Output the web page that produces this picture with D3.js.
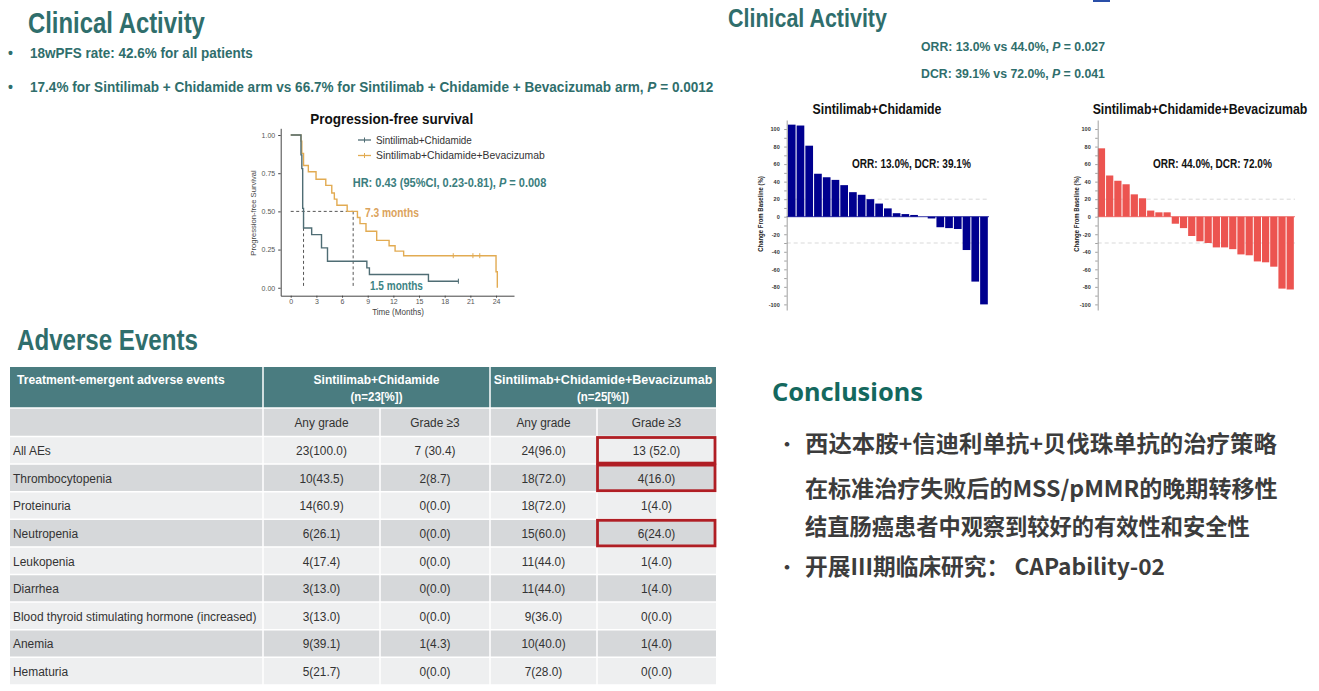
<!DOCTYPE html>
<html><head><meta charset="utf-8">
<script src="https://cdn.jsdelivr.net/npm/d3@7"></script>
<style>
html,body{margin:0;padding:0;background:#fff;}
svg{display:block;}
</style></head>
<body>
<svg id="c" width="1319" height="691"></svg>
<script>
// ---------- DATA ----------
const kmNames = ["Sintilimab+Chidamide", "Sintilimab+Chidamide+Bevacizumab"];
const kmTimesA = [0, 1.2, 1.3, 1.4, 1.5, 2.45, 3.6, 4.3, 8.9, 9.2, 16.1];
const kmSurvA  = [1.0, 0.87, 0.78, 0.52, 0.391, 0.348, 0.261, 0.174, 0.130, 0.087, 0.043];
const kmEndA = 19.6;
const kmCensorA = [[19.6, 0.043]];
const kmTimesB = [0, 1.2, 1.3, 1.5, 2.06, 2.96, 4.1, 4.8, 5.1, 5.4, 6.6, 7.8, 8.1, 8.8, 10.05, 11.5, 12.2, 13.2, 24.0, 24.15];
const kmSurvB  = [1.0, 0.96, 0.88, 0.80, 0.76, 0.71, 0.67, 0.62, 0.58, 0.54, 0.50, 0.46, 0.42, 0.37, 0.31, 0.275, 0.24, 0.21, 0.105, 0.0];
const kmEndB = 24.15;
const kmCensorB = [[19.0, 0.21], [21.3, 0.21], [22.1, 0.21]];
const kmMedians = [1.5, 7.3];
const kmXTicks = [0, 3, 6, 9, 12, 15, 18, 21, 24];
const kmYTicks = [0, 0.25, 0.5, 0.75, 1.0];

const wfValuesA = [105, 104, 81, 49, 45, 42, 36, 28, 25, 20, 15, 9.5, 4, 3, 2, 0, -2, -12, -13, -14, -38, -74, -100];
const wfValuesB = [78, 47, 41, 37, 25.5, 21, 7, 5, 5, -8, -13, -22, -28, -30, -35, -35, -37, -43, -44, -51, -52, -57, -82, -83];
const wfTicks = [-100, -80, -60, -40, -20, 0, 20, 40, 60, 80, 100];
const wfRefLines = [20, -30];

const aeNames = ["All AEs", "Thrombocytopenia", "Proteinuria", "Neutropenia", "Leukopenia", "Diarrhea", "Blood thyroid stimulating hormone (increased)", "Anemia", "Hematuria"];
const aeAnyA = ["23(100.0)", "10(43.5)", "14(60.9)", "6(26.1)", "4(17.4)", "3(13.0)", "3(13.0)", "9(39.1)", "5(21.7)"];
const aeG3A  = ["7 (30.4)", "2(8.7)", "0(0.0)", "0(0.0)", "0(0.0)", "0(0.0)", "0(0.0)", "1(4.3)", "0(0.0)"];
const aeAnyB = ["24(96.0)", "18(72.0)", "18(72.0)", "15(60.0)", "11(44.0)", "11(44.0)", "9(36.0)", "10(40.0)", "7(28.0)"];
const aeG3B  = ["13 (52.0)", "4(16.0)", "1(4.0)", "6(24.0)", "1(4.0)", "1(4.0)", "0(0.0)", "1(4.0)", "0(0.0)"];
const aeHighlight = ["All AEs", "Thrombocytopenia", "Neutropenia"];

// ---------- STYLE ----------
const TEAL = "#2f6e6c";
const SANS = '"Liberation Sans",Arial,sans-serif';
const svg = d3.select("#c");

function txt(x, y, s, o) {
  o = o || {};
  const t = svg.append("text").attr("x", 0).attr("y", 0)
    .attr("font-family", o.family || SANS)
    .attr("font-size", o.size || 14)
    .attr("font-weight", o.weight || "normal")
    .attr("fill", o.fill || "#333")
    .attr("text-anchor", o.anchor || "start");
  if (o.html) t.html(s); else t.text(s);
  let sx = o.sx !== undefined ? o.sx : (o.family ? 1 : 0.9);
  if (o.w) { const len = t.node().getComputedTextLength(); if (len > 0) sx = o.w / len; }
  t.attr("transform", `translate(${x},${y}) scale(${sx},1)`);
  return t;
}

// ---------- LEFT TOP ----------
txt(28, 33, "Clinical Activity", {size: 29, weight: "bold", fill: TEAL, w: 177});
txt(8, 58, "•", {size: 14, weight: "bold", fill: TEAL, sx: 1});
txt(30, 58, "18wPFS rate: 42.6% for all patients", {size: 15, weight: "bold", fill: TEAL, w: 223});
txt(8, 92, "•", {size: 14, weight: "bold", fill: TEAL, sx: 1});
txt(30, 92, "17.4% for Sintilimab + Chidamide arm vs 66.7% for Sintilimab + Chidamide + Bevacizumab arm, <tspan font-style='italic'>P</tspan> = 0.0012",
    {size: 15, weight: "bold", fill: TEAL, html: true, w: 684});

// ---------- KM PLOT ----------
{
  const x = d3.scaleLinear().domain([-1.17, 26.1]).range([280.7, 514]);
  const y = d3.scaleLinear().domain([-0.052, 1.044]).range([295.7, 128.3]);
  const g = svg.append("g");
  const xa = g.append("g").attr("transform", "translate(0,295.7)")
    .call(d3.axisBottom(x).tickValues(kmXTicks).tickSize(2).tickPadding(1.5).tickSizeOuter(0));
  const ya = g.append("g").attr("transform", "translate(280.7,0)")
    .call(d3.axisLeft(y).tickValues(kmYTicks).tickFormat(d3.format(".2f")).tickSize(2.5).tickPadding(3).tickSizeOuter(0));
  [xa, ya].forEach(a => {
    a.selectAll("path,line").attr("stroke", "#444").attr("stroke-width", 1);
    a.selectAll("text").attr("font-family", SANS).attr("font-size", 7).attr("fill", "#555");
  });
  const dash = "3,2.5";
  g.append("line").attr("x1", x(0)).attr("x2", x(kmMedians[1])).attr("y1", y(0.5)).attr("y2", y(0.5))
    .attr("stroke", "#555").attr("stroke-dasharray", dash);
  kmMedians.forEach(m => g.append("line").attr("x1", x(m)).attr("x2", x(m)).attr("y1", y(0.5)).attr("y2", y(0))
    .attr("stroke", "#555").attr("stroke-dasharray", dash));

  function stepPts(times, surv, end) {
    const pts = times.map((t, i) => [t, surv[i]]);
    pts.push([end, surv[surv.length - 1]]);
    return pts;
  }
  const line = d3.line().x(d => x(d[0])).y(d => y(d[1])).curve(d3.curveStepAfter);
  const colA = "#4f6d74", colB = "#e2ab52";
  g.append("path").attr("d", line(stepPts(kmTimesB, kmSurvB, kmEndB))).attr("fill", "none").attr("stroke", colB).attr("stroke-width", 1.4);
  g.append("path").attr("d", line(stepPts(kmTimesA, kmSurvA, kmEndA))).attr("fill", "none").attr("stroke", colA).attr("stroke-width", 1.4);
  function censor(arr, col) {
    arr.forEach(d => {
      g.append("line").attr("x1", x(d[0])).attr("x2", x(d[0])).attr("y1", y(d[1]) - 2.5).attr("y2", y(d[1]) + 2.5).attr("stroke", col).attr("stroke-width", 1);
    });
  }
  censor(kmCensorB, colB); censor(kmCensorA, colA);

  txt(391.7, 124, "Progression-free survival", {size: 15, weight: "bold", fill: "#111", anchor: "middle", w: 163});
  txt(398, 314.5, "Time (Months)", {size: 8.5, fill: "#444", anchor: "middle", sx: 0.95});
  svg.append("text").attr("font-family", SANS).attr("font-size", 8).attr("fill", "#444")
    .attr("text-anchor", "middle").attr("transform", "translate(256,213) rotate(-90) scale(0.95,1)").text("Progression-free Survival");
  [[colA, kmNames[0], 140, 96], [colB, kmNames[1], 155.5, 169]].forEach(([c, n, yy, w]) => {
    g.append("line").attr("x1", 358).attr("x2", 371).attr("y1", yy).attr("y2", yy).attr("stroke", c).attr("stroke-width", 1.3);
    g.append("line").attr("x1", 364.5).attr("x2", 364.5).attr("y1", yy - 2.5).attr("y2", yy + 2.5).attr("stroke", c).attr("stroke-width", 1);
    txt(376, yy + 3.5, n, {size: 10.5, fill: "#333", w: w});
  });
  txt(352.7, 186.5, "HR: 0.43 (95%CI, 0.23-0.81), <tspan font-style='italic'>P</tspan> = 0.008", {size: 12.5, weight: "bold", fill: "#3b7e7e", html: true, w: 194});
  txt(365, 216.5, "7.3 months", {size: 12.5, weight: "bold", fill: "#dba35c", w: 54});
  txt(370, 289.5, "1.5 months", {size: 12.5, weight: "bold", fill: "#3c8484", w: 53});
}

// ---------- RIGHT TOP ----------
txt(728, 27, "Clinical Activity", {size: 26, weight: "bold", fill: TEAL, w: 159});
svg.append("rect").attr("x", 1093).attr("y", 0).attr("width", 17).attr("height", 2).attr("fill", "#2a4fa8");
txt(1013, 51, "ORR: 13.0% vs 44.0%, <tspan font-style='italic'>P</tspan> = 0.027", {size: 13.5, weight: "bold", fill: TEAL, anchor: "middle", html: true, w: 184});
txt(1013, 78, "DCR: 39.1% vs 72.0%, <tspan font-style='italic'>P</tspan> = 0.041", {size: 13.5, weight: "bold", fill: TEAL, anchor: "middle", html: true, w: 184});

function waterfall(vals, axisX, x0, x1, color, title, titleX, titleW, orr, orrX, ylabX) {
  const y = d3.scaleLinear().domain([-106.4, 110.3]).range([310, 120]);
  const xb = d3.scaleBand().domain(d3.range(vals.length)).range([x0, x1]).paddingInner(0.12).paddingOuter(0.02);
  const g = svg.append("g");
  wfRefLines.forEach(v => g.append("line").attr("x1", axisX).attr("x2", x1 + 1).attr("y1", y(v)).attr("y2", y(v))
    .attr("stroke", "#cfcfcf").attr("stroke-width", 0.8).attr("stroke-dasharray", "4,3"));
  g.selectAll("rect.b").data(vals).join("rect")
    .attr("x", (d, i) => xb(i)).attr("width", xb.bandwidth())
    .attr("y", d => y(Math.max(0, d))).attr("height", d => Math.abs(y(d) - y(0)))
    .attr("fill", color);
  g.append("line").attr("x1", axisX).attr("x2", x1 + 1).attr("y1", y(0)).attr("y2", y(0)).attr("stroke", color).attr("stroke-width", 0.8);
  const minor = d3.range(-100, 101, 10);
  const ax = g.append("g").attr("transform", `translate(${axisX},0)`)
    .call(d3.axisLeft(y).tickValues(minor).tickFormat(d => wfTicks.includes(d) ? d : "").tickSize(2.5).tickSizeOuter(0));
  ax.selectAll("path,line").attr("stroke", "#888").attr("stroke-width", 0.8);
  ax.selectAll("text").attr("font-family", SANS).attr("font-size", 5.5).attr("font-weight", "bold").attr("fill", "#333").attr("dx", -1.5);
  svg.append("text").attr("font-family", SANS).attr("font-size", 6.5).attr("font-weight", "bold").attr("fill", "#222")
    .attr("text-anchor", "middle").attr("transform", `translate(${ylabX},214) rotate(-90) scale(0.92,1)`).text("Change From Baseline (%)");
  txt(titleX, 113.5, title, {size: 14, weight: "bold", fill: "#111", anchor: "middle", w: titleW});
  txt(orrX, 168, orr, {size: 12.5, weight: "bold", fill: "#111", w: 119});
}
waterfall(wfValuesA, 786.7, 787.7, 988, "#00008f", kmNames[0], 877, 129, "ORR: 13.0%, DCR: 39.1%", 852, 763);
waterfall(wfValuesB, 1097.7, 1097.7, 1294, "#ec5450", kmNames[1], 1200, 215, "ORR: 44.0%, DCR: 72.0%", 1153, 1079);

// ---------- ADVERSE EVENTS TABLE ----------
txt(17, 350, "Adverse Events", {size: 29.5, weight: "bold", fill: TEAL, w: 181});
{
  const colX = [10, 263, 380, 490, 597, 716];
  const g = svg.append("g");
  const hdrTop = 367, hdrBot = 408, subBot = 436.5, rowH = 27.6;
  g.append("rect").attr("x", colX[0]).attr("y", hdrTop).attr("width", colX[5] - colX[0]).attr("height", hdrBot - hdrTop).attr("fill", "#4a7c80");
  g.append("rect").attr("x", colX[0]).attr("y", hdrBot).attr("width", colX[5] - colX[0]).attr("height", subBot - hdrBot).attr("fill", "#d6d8da");
  const rowY = d3.scaleBand().domain(aeNames).range([subBot, subBot + rowH * aeNames.length]).padding(0);
  aeNames.forEach((n, i) => {
    g.append("rect").attr("x", colX[0]).attr("y", rowY(n)).attr("width", colX[5] - colX[0]).attr("height", rowH)
      .attr("fill", i % 2 === 0 ? "#eeeff0" : "#d6d8da");
  });
  const bottom = subBot + rowH * aeNames.length;
  [colX[1], colX[3]].forEach(cx => g.append("line").attr("x1", cx).attr("x2", cx).attr("y1", hdrTop).attr("y2", bottom).attr("stroke", "#fff").attr("stroke-width", 1.5));
  [colX[2], colX[4]].forEach(cx => g.append("line").attr("x1", cx).attr("x2", cx).attr("y1", hdrBot).attr("y2", bottom).attr("stroke", "#fff").attr("stroke-width", 1.5));
  [hdrBot, subBot].concat(aeNames.map(n => rowY(n) + rowH)).forEach(yy =>
    g.append("line").attr("x1", colX[0]).attr("x2", colX[5]).attr("y1", yy).attr("y2", yy).attr("stroke", "#fff").attr("stroke-width", 1.5));

  txt(17, 384, "Treatment-emergent adverse events", {size: 13.5, weight: "bold", fill: "#fff", w: 208});
  txt((colX[1] + colX[3]) / 2, 384, "Sintilimab+Chidamide", {size: 13.5, weight: "bold", fill: "#fff", anchor: "middle", w: 126});
  txt((colX[1] + colX[3]) / 2, 401, "(n=23[%])", {size: 13.5, weight: "bold", fill: "#fff", anchor: "middle", sx: 0.85});
  txt((colX[3] + colX[5]) / 2, 384, "Sintilimab+Chidamide+Bevacizumab", {size: 13.5, weight: "bold", fill: "#fff", anchor: "middle", w: 219});
  txt((colX[3] + colX[5]) / 2, 401, "(n=25[%])", {size: 13.5, weight: "bold", fill: "#fff", anchor: "middle", sx: 0.85});
  const subs = ["Any grade", "Grade ≥3", "Any grade", "Grade ≥3"];
  subs.forEach((s, j) => txt((colX[j + 1] + colX[j + 2]) / 2, 427, s, {size: 13.5, fill: "#333", anchor: "middle", sx: 0.88}));
  const cols = [aeAnyA, aeG3A, aeAnyB, aeG3B];
  aeNames.forEach((n, i) => {
    const yy = rowY(n) + rowH / 2 + 4.8;
    txt(13, yy, n, {size: 13.5, fill: "#333", sx: 0.885});
    cols.forEach((c, j) => txt((colX[j + 1] + colX[j + 2]) / 2, yy, c[i], {size: 13.5, fill: "#333", anchor: "middle", sx: 0.88}));
  });
  aeHighlight.forEach(n => {
    g.append("rect").attr("x", colX[4] + 0.5).attr("y", rowY(n) + 1).attr("width", colX[5] - colX[4] - 1.5).attr("height", rowH - 2)
      .attr("fill", "none").attr("stroke", "#b01e24").attr("stroke-width", 2.8);
  });
}

// ---------- CONCLUSIONS ----------
{
  const CJK = '"Noto Sans CJK SC","Noto Sans",sans-serif';
  txt(772, 401, "Conclusions", {size: 25, weight: "bold", fill: "#14685e", family: '"Noto Sans","Open Sans",sans-serif', w: 151});
  const lines = [
    ["•", "西达本胺+信迪利单抗+贝伐珠单抗的治疗策略", 452, 472],
    ["", "在标准治疗失败后的MSS/pMMR的晚期转移性", 497, 473],
    ["", "结直肠癌患者中观察到较好的有效性和安全性", 535, 445],
    ["•", "开展III期临床研究： CAPability-02", 575, 360]
  ];
  lines.forEach(([b, s, yy, w]) => {
    if (b) txt(778, yy - 1, b, {size: 18, weight: "bold", fill: "#3c3c3c", family: CJK});
    txt(805, yy, s, {size: 22.5, weight: "bold", fill: "#3c3c3c", family: CJK, w: w});
  });
}
</script>
</body></html>
